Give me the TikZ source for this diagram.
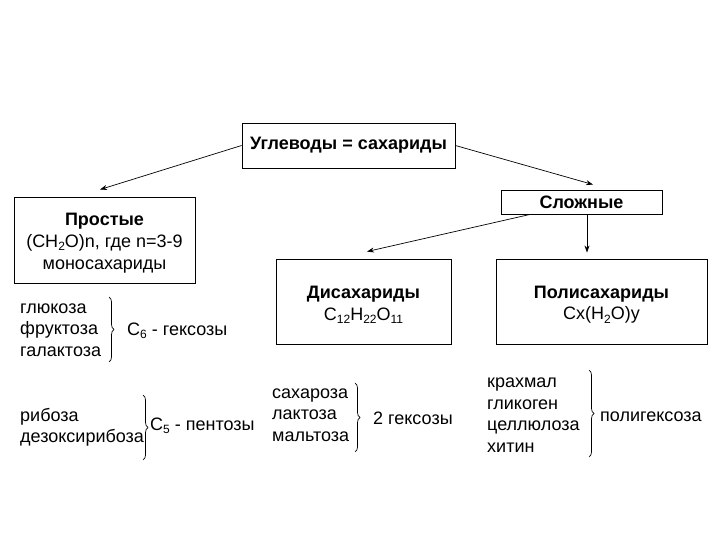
\documentclass[tikz,border=0pt]{standalone}
\usepackage{fontspec}
\setmainfont{Liberation Sans}
\usetikzlibrary{arrows.meta,decorations.pathreplacing,calc}
\newcommand{\sbs}[1]{\raisebox{-0.35ex}{\fontsize{12}{12}\selectfont #1}}
\tikzset{
  box/.style={draw, line width=0.9pt, align=center, inner sep=0pt},
  txt/.style={font=\fontsize{18}{21.5}\selectfont, inner sep=0pt},
  lst/.style={txt, align=left, anchor=west},
  arr/.style={-{Stealth[length=7pt,width=5pt]}, line width=0.7pt},
  brc/.style={decorate, decoration={brace, mirror, amplitude=5pt}, line width=0.7pt}
}
\begin{document}
\begin{tikzpicture}[x=1pt,y=-1pt]
\useasboundingbox (0,0) rectangle (720,540);
% boxes
\node[box, txt, minimum width=213, minimum height=45, font=\fontsize{18}{21.5}\selectfont\bfseries] (top) at (348.5,145.5) {Углеводы = сахариды};
\node[box, txt, minimum width=181, minimum height=86, font=\fontsize{18}{22}\selectfont] (prost) at (104.5,240) {\rule{0pt}{18pt}\textbf{Простые}\\(CH\sbs{2}O)n, где n=3-9\\моносахариды};
\node[box, txt, minimum width=161, minimum height=24, font=\fontsize{18}{21.5}\selectfont\bfseries] (slozh) at (581.5,202) {Сложные};
\node[box, txt, minimum width=175, minimum height=85] (di) at (363.5,301.5) {\rule{0pt}{19pt}\textbf{Дисахариды}\\C\sbs{12}H\sbs{22}O\sbs{11}};
\node[box, txt, minimum width=211, minimum height=85] (poly) at (601.5,301.5) {\rule{0pt}{19pt}\textbf{Полисахариды}\\Cx(H\sbs{2}O)y};
% arrows
\draw[arr] (top.west) -- ($(prost.north)+(-4.5,-7)$);
\draw[arr] (top.east) -- ($(slozh.north)+(11.5,-5)$);
\draw[arr] ($(slozh.south)+(-51.5,0)$) -- ($(di.north)+(3.5,-7)$);
\draw[arr] ($(slozh.south)+(5.5,0)$) -- ($(poly.north)+(-14.5,-6)$);
% monosaccharides
\node[lst] (hex) at (20,330) {глюкоза\\фруктоза\\галактоза};
\draw[brc] (109,362) -- (109,297);
\node[lst] (c6) at (127,331) {C\sbs{6} - гексозы};
\node[lst] (pent) at (20,427.5) {рибоза\\дезоксирибоза};
\draw[brc] (143,460) -- (143,395);
\node[lst] (c5) at (150,426) {C\sbs{5} - пентозы};
% disaccharides
\node[lst] (dis) at (272,415) {сахароза\\лактоза\\мальтоза};
\draw[brc] (355,452) -- (355,383);
\node[lst] (g2) at (373,418) {2 гексозы};
% polysaccharides
\node[lst] (pol) at (487,415) {крахмал\\гликоген\\целлюлоза\\хитин};
\draw[brc] (589,457) -- (589,370);
\node[lst] (pg) at (600,417) {полигексоза};
\end{tikzpicture}
\end{document}
